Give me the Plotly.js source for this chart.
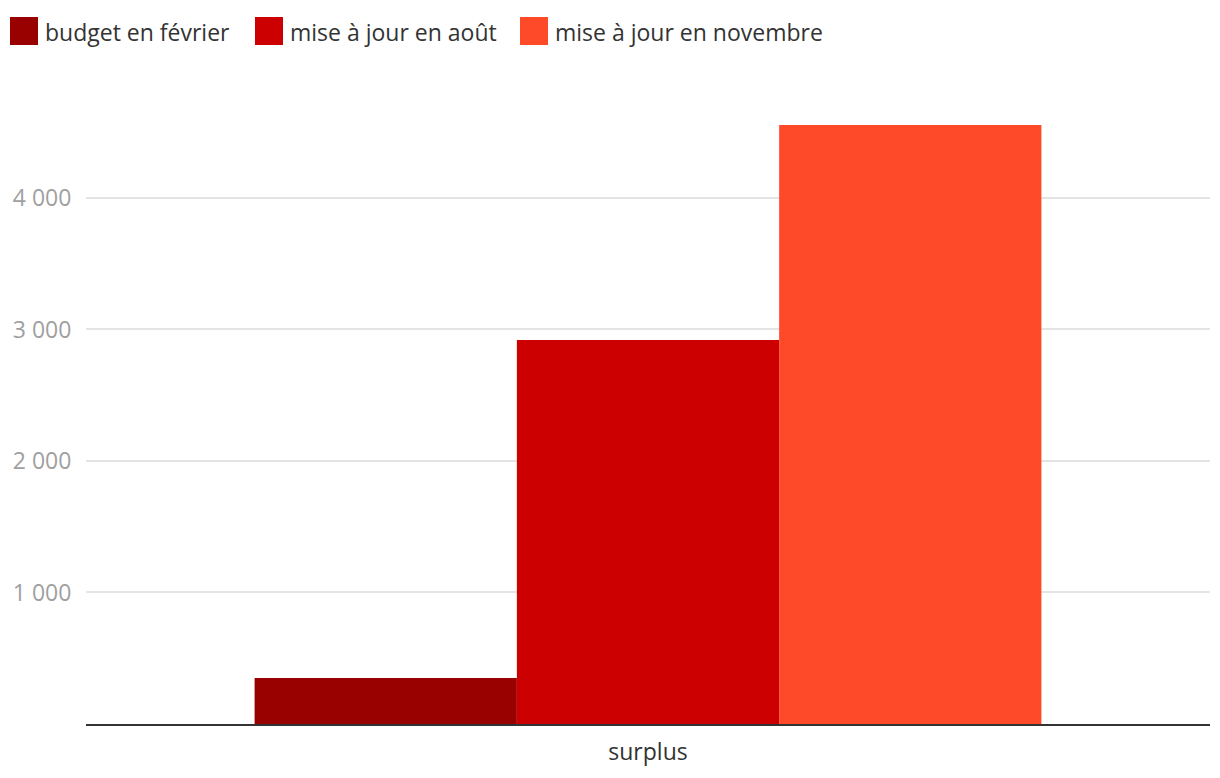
<!DOCTYPE html>
<html>
<head>
<meta charset="utf-8">
<script src="https://cdn.plot.ly/plotly-3.0.1.min.js"></script>
<style>html,body{margin:0;padding:0;background:#fff;}#chart{width:1220px;height:778px;}</style>
</head>
<body>
<div id="chart"></div>
<script>
const categories = ["surplus"];
const seriesNames = ["budget en février", "mise à jour en août", "mise à jour en novembre"];
const budgetFevrier = [350];
const majAout = [2920];
const majNovembre = [4555];
const yTickValues = [1000, 2000, 3000, 4000];
const colors = ["#990000", "#cc0000", "#ff4a2a"];

// legend layout (pixel offsets from plot-area left edge / top edge)
const legendSwatchLeft = [-76, 169, 434];
const swatchSize = 28;

const seriesValues = [budgetFevrier, majAout, majNovembre];
const traces = seriesValues.map((vals, i) => ({
  type: "bar",
  name: seriesNames[i],
  x: categories,
  y: vals,
  marker: {color: colors[i], line: {width: 0}},
  hoverinfo: "y+name",
  showlegend: false
}));

const shapes = [];
const annotations = [];
seriesNames.forEach((name, i) => {
  shapes.push({
    type: "rect",
    xref: "paper", yref: "paper",
    xsizemode: "pixel", ysizemode: "pixel",
    xanchor: 0, yanchor: 1,
    x0: legendSwatchLeft[i], x1: legendSwatchLeft[i] + swatchSize,
    y0: 55, y1: 55 + swatchSize,
    fillcolor: colors[i],
    line: {width: 0}
  });
  annotations.push({
    xref: "paper", yref: "paper",
    x: 0, y: 1,
    xanchor: "left", yanchor: "middle",
    xshift: legendSwatchLeft[i] + swatchSize + 5,
    yshift: 68,
    text: name,
    showarrow: false,
    font: {size: 23, color: "#333"}
  });
});

const layout = {
  width: 1220,
  height: 778,
  margin: {l: 86, r: 10, t: 100, b: 54},
  paper_bgcolor: "#fff",
  plot_bgcolor: "#fff",
  font: {family: "Open Sans, sans-serif", color: "#333"},
  separators: ", ",
  barmode: "group",
  bargap: 0.3,
  bargroupgap: 0,
  showlegend: false,
  shapes: shapes,
  annotations: annotations,
  xaxis: {
    showgrid: false,
    showline: true,
    linecolor: "#333",
    linewidth: 2,
    ticks: "outside",
    ticklen: 6,
    tickcolor: "rgba(0,0,0,0)",
    tickfont: {size: 23, color: "#333"},
    fixedrange: true
  },
  yaxis: {
    range: [0, 4745],
    tickvals: yTickValues,
    tickformat: ",",
    showgrid: true,
    gridcolor: "#e4e4e4",
    gridwidth: 2,
    zeroline: false,
    showline: false,
    ticks: "outside",
    ticklen: 9,
    tickcolor: "rgba(0,0,0,0)",
    tickfont: {size: 23, color: "#a0a0a0"},
    fixedrange: true
  }
};

Plotly.newPlot("chart", traces, layout, {displayModeBar: false, staticPlot: true});
</script>
</body>
</html>
